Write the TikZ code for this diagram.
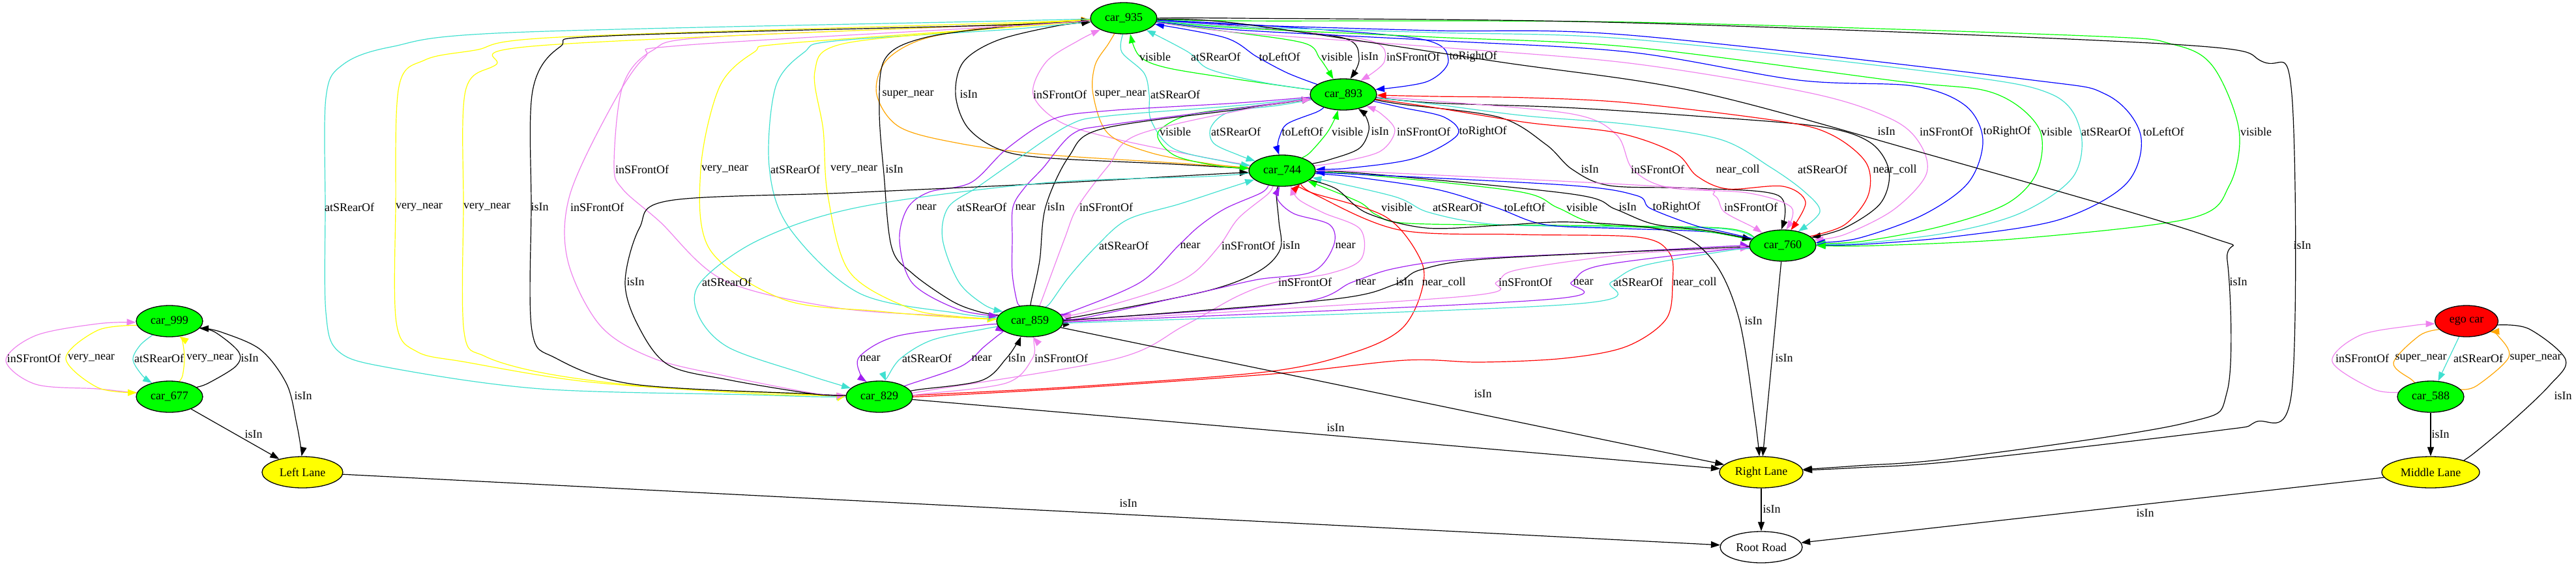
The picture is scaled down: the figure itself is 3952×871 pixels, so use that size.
\documentclass[tikz,border=0pt]{standalone}
\usepackage{fontspec}
\setmainfont{Liberation Serif}
\usetikzlibrary{shapes.geometric,arrows.meta}
\definecolor{cgreen}{HTML}{00FF00}
\definecolor{cturq}{HTML}{40E0D0}
\definecolor{cviolet}{HTML}{EE82EE}
\definecolor{cpurple}{HTML}{A020F0}
\definecolor{corange}{HTML}{FFA500}
\definecolor{cyellow}{HTML}{FFFF00}
\definecolor{cblue}{HTML}{0000FF}
\definecolor{cred}{HTML}{FF0000}
\pgfdeclarelayer{bg}
\pgfsetlayers{bg,main}
\newcommand\cedge[6][]{%
  \path (#2) -- #3 coordinate[pos=0] (es);%
  \path #5 -- (#6) coordinate[pos=1] (ee);%
  \draw[ed,#1] plot[smooth,tension=.55] coordinates {(es) #3 #4 #5 (ee)};}
\newcommand\lab[3]{\node[lbl] (#1) at (#2) {#3};}
\tikzset{
  ed/.style={line width=1.2pt,-{Triangle[length=14pt,width=10pt]}},
  lbl/.style={font=\fontsize{18}{20}\selectfont,inner sep=0pt},
  car/.style={ellipse,draw,line width=1.3pt,fill=cgreen,minimum width=102pt,minimum height=48pt,inner sep=0pt,font=\fontsize{18}{20}\selectfont},
  lane/.style={car,fill=cyellow}
}
\begin{document}
\begin{tikzpicture}[x=1pt,y=-1pt]
\useasboundingbox (0,0) rectangle (3952,871);
% nodes
\node[car] (c935) at (1724,28) {car\_935};
\node[car] (c893) at (2061,145) {car\_893};
\node[car] (c744) at (1967,262) {car\_744};
\node[car] (c760) at (2735,377) {car\_760};
\node[car] (c859) at (1580,493) {car\_859};
\node[car] (c829) at (1349,609) {car\_829};
\node[car] (c999) at (260,493) {car\_999};
\node[car] (c677) at (260,609) {car\_677};
\node[car,fill=cred,minimum width=97pt] (ego) at (3784,493) {ego car};
\node[car] (c588) at (3729,609) {car\_588};
\node[lane,minimum width=124pt] (LL) at (464,725) {Left Lane};
\node[lane,minimum width=128pt] (RL) at (2702,725) {Right Lane};
\node[lane,minimum width=150pt] (ML) at (3729,725) {Middle Lane};
\node[lane,fill=white,minimum width=126pt] (RR) at (2702,840) {Root Road};

\begin{pgfonlayer}{bg}
% 935 <-> 893
\cedge[cgreen]{c893}{(1900,122)}{(1790,104)}{(1748,86)}{c935}
\cedge[cturq]{c893}{(1935,126)}{(1855,106)}{(1823,80)}{c935}
\cedge[cblue]{c893}{(1975,112)}{(1928,87)}{(1880,58)}{c935}
\cedge[cgreen]{c935}{(1880,48)}{(2000,66)}{(2025,90)}{c893}
\cedge[black]{c935}{(1900,40)}{(2060,58)}{(2085,90)}{c893}
\cedge[cviolet]{c935}{(1920,42)}{(2100,62)}{(2124,94)}{c893}
\cedge[cblue]{c935}{(1950,40)}{(2180,60) (2222,92)}{(2190,125)}{c893}
% 935 <-> 744
\cedge[corange]{c744}{(1800,250)}{(1600,237) (1471,220) (1380,195) (1345,145) (1358,95) (1410,62) (1500,44)}{(1620,33)}{c935}
\cedge[black]{c744}{(1800,252)}{(1600,242) (1530,228) (1484,195) (1466,145) (1478,95) (1530,62)}{(1620,40)}{c935}
\cedge[cviolet]{c744}{(1850,242)}{(1710,213) (1626,187) (1585,145) (1605,95)}{(1655,62)}{c935}
\cedge[corange]{c935}{(1700,68)}{(1680,100) (1677,145) (1700,205) (1767,235)}{(1860,252)}{c744}
\cedge[cturq]{c935}{(1721,80)}{(1755,112) (1763,145) (1766,185) (1800,228)}{(1880,248)}{c744}
% 893 <-> 744
\cedge[cgreen]{c893}{(1950,160)}{(1830,175) (1782,197) (1778,215) (1805,240)}{(1870,255)}{c744}
\cedge[cturq]{c893}{(1960,162)}{(1886,172) (1858,195) (1862,220)}{(1900,238)}{c744}
\cedge[cblue]{c893}{(2020,172)}{(1975,190) (1963,210)}{(1960,226)}{c744}
\cedge[cgreen]{c744}{(2010,234)}{(2035,205)}{(2048,182)}{c893}
\cedge[black]{c744}{(2040,245)}{(2085,228) (2100,200)}{(2095,178)}{c893}
\cedge[cviolet]{c744}{(2060,248)}{(2118,232) (2140,200)}{(2118,174)}{c893}
\cedge[cblue]{c893}{(2150,165)}{(2216,180) (2236,207) (2170,243)}{(2070,258)}{c744}
% -> 760 from top
\cedge[black]{c893}{(2200,158)}{(2400,165) (2600,178) (2790,194) (2868,218) (2898,262) (2885,312)}{(2830,350)}{c760}
\cedge[cviolet]{c935}{(1900,50)}{(2200,72) (2500,97) (2778,143) (2900,182) (2945,220) (2955,268) (2905,322)}{(2830,360)}{c760}
\cedge[cblue]{c935}{(1900,46)}{(2200,62) (2500,80) (2759,123) (2935,132) (3015,162) (3042,215) (3020,280) (2950,330)}{(2850,366)}{c760}
\cedge[cgreen]{c935}{(1900,43)}{(2200,57) (2500,72) (2907,124) (3056,142) (3127,195) (3126,262) (3080,312) (2980,347)}{(2860,370)}{c760}
\cedge[cturq]{c935}{(1900,41)}{(2200,50) (2500,60) (2991,114) (3148,145) (3192,202) (3180,272) (3100,327) (2990,357)}{(2860,373)}{c760}
\cedge[cblue]{c935}{(1900,38)}{(2200,47) (2500,54) (3102,121) (3231,145) (3284,207) (3262,282) (3160,337) (3000,363)}{(2860,375)}{c760}
\cedge[cgreen]{c935}{(1900,32)}{(2500,34) (3200,55) (3333,68) (3395,102) (3435,200) (3420,285) (3361,335) (3100,366)}{(2880,377)}{c760}
% 893 <-> 760
\cedge[black]{c893}{(2150,160)}{(2300,180) (2372,222) (2412,260) (2470,285) (2600,289)}{(2728,300)}{c760}
\cedge[cviolet]{c893}{(2200,155)}{(2412,175) (2480,207) (2505,260) (2560,288) (2680,296)}{(2748,318)}{c760}
\cedge[cred]{c893}{(2200,165)}{(2342,188) (2482,204) (2570,235) (2603,270) (2650,290) (2735,286)}{(2770,310)}{c760}
\cedge[cturq]{c893}{(2200,160)}{(2342,178) (2500,191) (2639,214) (2715,256) (2768,294)}{(2792,325)}{c760}
\cedge[cred]{c760}{(2830,345)}{(2866,300) (2863,250) (2810,207) (2731,186) (2500,158) (2342,150)}{(2200,148)}{c893}
% 744 <-> 760
\cedge[cgreen]{c760}{(2640,350)}{(2400,346) (2163,343) (2112,330)}{(2085,310)}{c744}
\cedge[cturq]{c760}{(2640,351)}{(2450,348) (2288,344) (2192,326)}{(2140,302)}{c744}
\cedge[cblue]{c744}{(2080,272)}{(2205,291) (2296,319) (2371,345) (2495,351)}{(2620,356)}{c760}
\cedge[cgreen]{c744}{(2090,268)}{(2329,294) (2390,319) (2454,344)}{(2600,353)}{c760}
\cedge[black]{c744}{(2090,266)}{(2412,298) (2478,321) (2537,344)}{(2620,354)}{c760}
\cedge[cblue]{c760}{(2640,355)}{(2600,346) (2532,320) (2510,300)}{(2400,284)}{c744}
\cedge[cviolet]{c744}{(2100,264)}{(2578,288) (2630,300) (2645,325)}{(2688,348)}{c760}
% 935 <-> 859
\cedge[cviolet]{c935}{(1550,38)}{(1089,57) (1000,78) (955,133) (942,253) (955,290) (1012,340) (1110,430) (1280,472)}{(1450,485)}{c859}
\cedge[cyellow]{c935}{(1550,42)}{(1203,67) (1157,80) (1104,133) (1075,260) (1089,383) (1203,460) (1350,478)}{(1460,487)}{c859}
\cedge[cturq]{c935}{(1550,45)}{(1280,63) (1234,80) (1190,133) (1180,255) (1211,350) (1318,450)}{(1470,481)}{c859}
\cedge[cyellow]{c859}{(1470,486)}{(1395,473) (1303,417) (1270,300) (1263,200) (1250,110) (1290,68)}{(1500,46)}{c935}
\cedge[black]{c859}{(1500,478)}{(1460,462) (1400,420) (1368,380) (1356,267) (1349,167) (1358,90) (1418,58)}{(1550,40)}{c935}
% 935 <-> 829
\cedge[cturq]{c935}{(1550,32)}{(783,50) (600,72) (525,100) (500,150) (499,318) (500,480) (520,540) (600,565) (830,597) (1150,606)}{(1250,609)}{c829}
\cedge[cyellow]{c935}{(1550,35)}{(859,57) (729,77) (652,92) (612,133) (607,318) (608,495) (640,540) (715,556) (900,586) (1150,604)}{(1250,607)}{c829}
\cedge[cyellow]{c935}{(1550,37)}{(828,70) (760,100) (714,140) (711,318) (712,510) (744,547) (841,574) (1002,594)}{(1250,606)}{c829}
\cedge[black]{c829}{(1250,605)}{(973,590) (853,550) (816,507) (815,318) (817,140) (859,72) (936,55)}{(1550,38)}{c935}
\cedge[cviolet]{c935}{(1550,40)}{(1043,70) (989,88) (936,167) (874,300) (871,400) (921,500) (1002,550) (1117,578)}{(1250,604)}{c829}
% 893 <-> 859
\cedge[cpurple]{c893}{(1900,158)}{(1700,170) (1615,183) (1545,228) (1490,280) (1425,295) (1392,320) (1380,370) (1400,435)}{(1470,475)}{c859}
\cedge[cturq]{c893}{(1900,162)}{(1700,178) (1640,192) (1560,245) (1500,287) (1455,318) (1446,367) (1471,433)}{(1510,468)}{c859}
\cedge[cpurple]{c859}{(1560,462)}{(1553,420) (1553,367) (1554,318) (1572,288) (1600,258) (1645,206) (1700,192)}{(1900,166)}{c893}
\cedge[black]{c859}{(1582,462)}{(1595,400) (1604,318) (1640,240) (1690,198)}{(1900,168)}{c893}
\cedge[cviolet]{c859}{(1597,464)}{(1633,367) (1653,318) (1700,255) (1745,207)}{(1920,166)}{c893}
% 744 <-> 859
\cedge[cturq]{c859}{(1612,464)}{(1640,425) (1683,377) (1730,337) (1810,313)}{(1880,290)}{c744}
\cedge[cpurple]{c744}{(1935,296)}{(1880,320) (1840,347) (1808,377) (1750,433)}{(1650,476)}{c859}
\cedge[cviolet]{c744}{(1945,298)}{(1900,335) (1871,377) (1830,420) (1774,447)}{(1662,480)}{c859}
\cedge[black]{c744}{(1958,298)}{(1962,340) (1964,383) (1930,417) (1850,447)}{(1665,484)}{c859}
\cedge[cpurple]{c859}{(1668,487)}{(1850,447) (1930,429) (2014,417) (2046,377) (2040,345) (1985,328)}{(1960,306)}{c744}
% 744 <-> 829
\cedge[black]{c829}{(1250,605)}{(1117,583) (1025,560) (979,500) (959,433) (981,350) (1027,308) (1300,296) (1600,282)}{(1850,268)}{c744}
\cedge[cturq]{c744}{(1850,271)}{(1600,281) (1318,318) (1165,368) (1075,433) (1071,483) (1117,533) (1231,573)}{(1285,590)}{c829}
\cedge[cviolet]{c829}{(1420,600)}{(1711,551) (1815,501) (1898,455) (1958,433) (2039,420) (2088,398) (2087,352) (2031,327)}{(1992,306)}{c744}
\cedge[cred]{c829}{(1420,606)}{(1659,593) (1950,570) (2080,540) (2150,505) (2180,450) (2180,400) (2126,333)}{(2010,295)}{c744}
\cedge[cred]{c744}{(2020,300)}{(2147,353) (2329,360) (2512,364) (2561,388) (2566,433) (2556,490) (2495,532) (2400,550) (2271,556) (2156,553) (1965,573) (1659,595)}{(1430,608)}{c829}
% 760 <-> 859
\cedge[cpurple]{c859}{(1660,490)}{(1990,465) (2075,433) (2140,412) (2246,398) (2500,386)}{(2650,378)}{c760}
\cedge[black]{c760}{(2650,380)}{(2288,397) (2180,414) (2139,437) (2039,460)}{(1665,490)}{c859}
\cedge[cviolet]{c859}{(1665,492)}{(2246,455) (2296,433) (2329,414) (2500,390)}{(2650,382)}{c760}
\cedge[cpurple]{c760}{(2650,383)}{(2454,408) (2411,433) (2371,460)}{(1665,493)}{c859}
\cedge[cturq]{c760}{(2650,385)}{(2520,408) (2472,433) (2412,467)}{(1665,495)}{c859}
% 859 <-> 829
\cedge[cpurple]{c859}{(1500,500)}{(1376,516) (1319,547)}{(1320,575)}{c829}
\cedge[cturq]{c859}{(1510,505)}{(1430,522) (1382,550)}{(1362,578)}{c829}
\cedge[cpurple]{c829}{(1395,590)}{(1475,562) (1510,532)}{(1535,512)}{c859}
\cedge[black]{c829}{(1410,598)}{(1506,584) (1544,550)}{(1562,524)}{c859}
\cedge[cviolet]{c829}{(1415,605)}{(1544,588) (1584,550)}{(1586,524)}{c859}
% 999 <-> 677
\cedge[cviolet]{c677}{(150,597)}{(55,590) (9,553) (55,515)}{(150,497)}{c999}
\cedge[cyellow]{c999}{(150,507)}{(101,550)}{(150,595)}{c677}
\cedge[cturq]{c999}{(215,530)}{(204,552)}{(218,576)}{c677}
\cedge[cyellow]{c677}{(280,577)}{(283,550)}{(280,524)}{c999}
\cedge[black]{c677}{(320,588)}{(362,562) (366,540)}{(330,510)}{c999}
\cedge[black]{c999}{(340,510)}{(400,537) (440,590) (455,650)}{(462,690)}{LL}
\draw[ed] (c677) -- (LL);
% ego <-> 588
\cedge[cviolet]{c588}{(3640,597)}{(3578,555) (3620,515)}{(3700,500)}{ego}
\cedge[corange]{ego}{(3712,515)}{(3672,557)}{(3700,583)}{c588}
\draw[ed,cturq] (ego) -- (c588);
\cedge[corange]{c588}{(3800,592)}{(3849,548)}{(3832,515)}{ego}
\cedge[black]{ego}{(3880,505)}{(3936,552) (3911,592) (3850,650)}{(3790,700)}{ML}
\draw[ed] (c588) -- (ML);
% lanes
\draw[ed] (LL) -- (RR);
\draw[ed] (RL) -- (RR);
\draw[ed] (ML) -- (RR);
\draw[ed] (c829) -- (RL);
\draw[ed] (c859) -- (RL);
\draw[ed] (c760) -- (RL);
\cedge[black]{c744}{(2050,290)}{(2097,327) (2188,350) (2300,346) (2412,341) (2561,355) (2628,400) (2668,490)}{(2692,640)}{RL}
\cedge[black]{c935}{(1900,28)}{(2500,35) (3333,68) (3472,95) (3516,145) (3516,600) (3460,648) (3395,662) (3000,708)}{(2850,718)}{RL}
\cedge[black]{c935}{(1900,36)}{(2300,95) (2600,140) (2944,233) (3385,362) (3417,400) (3417,600) (3350,650) (3000,703)}{(2850,715)}{RL}
\end{pgfonlayer}

% labels
\lab{a1}{1772,87}{visible}
\lab{a2}{1865,87}{atSRearOf}
\lab{a3}{1963,87}{toLeftOf}
\lab{a4}{2051,87}{visible}
\lab{a5}{2101,87}{isIn}
\lab{a6}{2168,87}{inSFrontOf}
\lab{a7}{2260,87}{toRightOf}
\lab{b1}{1393,145}{super\_near}
\lab{b2}{1486,145}{isIn}
\lab{b3}{1626,145}{inSFrontOf}
\lab{b4}{1719,145}{super\_near}
\lab{b5}{1803,145}{atSRearOf}
\lab{c1}{1803,202}{visible}
\lab{c2}{1896,202}{atSRearOf}
\lab{c3}{1998,202}{toLeftOf}
\lab{c4}{2067,202}{visible}
\lab{c5}{2117,202}{isIn}
\lab{c6}{2184,202}{inSFrontOf}
\lab{c7}{2275,202}{toRightOf}
\lab{d1}{2894,202}{isIn}
\lab{d2}{2986,202}{inSFrontOf}
\lab{d3}{3079,202}{toRightOf}
\lab{d4}{3155,202}{visible}
\lab{d5}{3231,202}{atSRearOf}
\lab{d6}{3319,202}{toLeftOf}
\lab{d7}{3461,202}{visible}
\lab{g1}{985,260}{inSFrontOf}
\lab{g2}{1112,260}{very\_near}
\lab{g3}{1220,260}{atSRearOf}
\lab{g4}{1310,260}{very\_near}
\lab{g5}{1372,260}{isIn}
\lab{e1}{2439,260}{isIn}
\lab{e2}{2543,260}{inSFrontOf}
\lab{e3}{2666,260}{near\_coll}
\lab{e4}{2796,260}{atSRearOf}
\lab{e5}{2907,260}{near\_coll}
\lab{h1}{536,318}{atSRearOf}
\lab{h2}{643,318}{very\_near}
\lab{h3}{747,318}{very\_near}
\lab{h4}{828,318}{isIn}
\lab{h5}{916,318}{inSFrontOf}
\lab{i1}{1421,318}{near}
\lab{i2}{1506,318}{atSRearOf}
\lab{i3}{1573,318}{near}
\lab{i4}{1620,318}{isIn}
\lab{i5}{1697,318}{inSFrontOf}
\lab{f1}{2143,318}{visible}
\lab{f2}{2236,318}{atSRearOf}
\lab{f3}{2339,318}{toLeftOf}
\lab{f4}{2427,318}{visible}
\lab{f5}{2497,318}{isIn}
\lab{f6}{2572,318}{toRightOf}
\lab{f7}{2686,318}{inSFrontOf}
\lab{j1}{1724,377}{atSRearOf}
\lab{j2}{1826,377}{near}
\lab{j3}{1915,377}{inSFrontOf}
\lab{j4}{1981,377}{isIn}
\lab{j5}{2064,377}{near}
\lab{q1}{3532,377}{isIn}
\lab{k1}{975,433}{isIn}
\lab{k2}{1115,433}{atSRearOf}
\lab{k3}{2002,433}{inSFrontOf}
\lab{l1}{2095,433}{near}
\lab{l2}{2155,433}{isIn}
\lab{k4}{2215,433}{near\_coll}
\lab{l3}{2340,433}{inSFrontOf}
\lab{l4}{2429,433}{near}
\lab{l5}{2513,433}{atSRearOf}
\lab{k5}{2600,433}{near\_coll}
\lab{q2}{3434,433}{isIn}
\lab{q3}{2690,493}{isIn}
\lab{m1}{1335,550}{near}
\lab{m2}{1422,550}{atSRearOf}
\lab{m3}{1506,550}{near}
\lab{m4}{1560,550}{isIn}
\lab{m5}{1628,550}{inSFrontOf}
\lab{n1}{52,550}{inSFrontOf}
\lab{n2}{140,550}{very\_near}
\lab{n3}{244,550}{atSRearOf}
\lab{n4}{322,550}{very\_near}
\lab{n5}{383,550}{isIn}
\lab{o1}{3624,550}{inSFrontOf}
\lab{o2}{3714,550}{super\_near}
\lab{o3}{3802,550}{atSRearOf}
\lab{o4}{3890,550}{super\_near}
\lab{q4}{2737,550}{isIn}
\lab{q5}{2275,605}{isIn}
\lab{n6}{465,608}{isIn}
\lab{o5}{3932,608}{isIn}
\lab{q6}{2049,657}{isIn}
\lab{n7}{389,667}{isIn}
\lab{o6}{3744,667}{isIn}
\lab{r1}{1731,773}{isIn}
\lab{r2}{2718,782}{isIn}
\lab{r3}{3291,788}{isIn}
\end{tikzpicture}
\end{document}
